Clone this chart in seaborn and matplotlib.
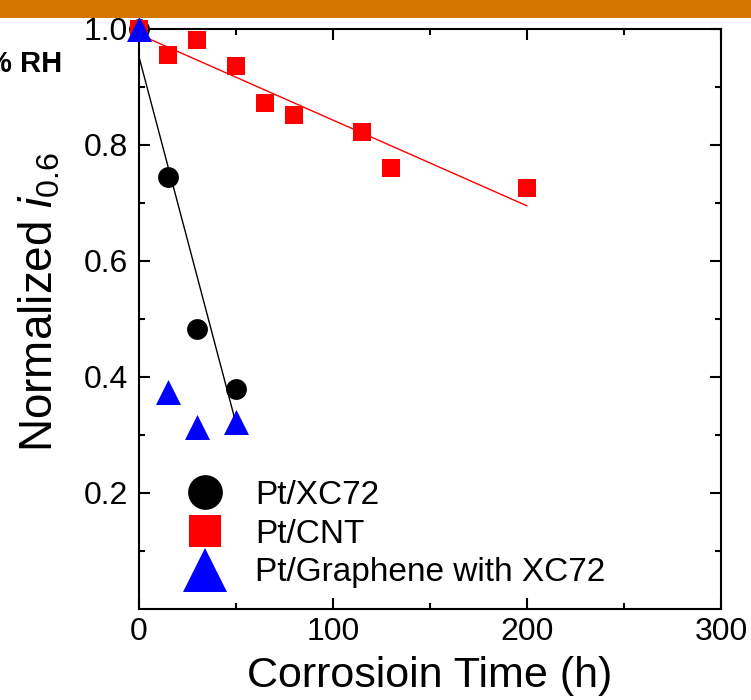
import numpy as np
import pandas as pd
import matplotlib
matplotlib.use("Agg")
import matplotlib.pyplot as plt
from matplotlib.lines import Line2D
from matplotlib.patches import Rectangle
import seaborn as sns

# ---- data ----
xc72_time = [0, 15, 30, 50]
xc72_val = [1.0, 0.745, 0.483, 0.379]

cnt_time = [0, 15, 30, 50, 65, 80, 115, 130, 200]
cnt_val = [1.0, 0.955, 0.981, 0.936, 0.872, 0.852, 0.822, 0.760, 0.726]

gr_time = [0, 15, 30, 50]
gr_val = [1.0, 0.374, 0.313, 0.322]

labels = ["Pt/XC72", "Pt/CNT", "Pt/Graphene with XC72"]
x_ticks = [0, 100, 200, 300]
y_ticks = [0.2, 0.4, 0.6, 0.8, 1.0]

sns.set_theme(style="ticks")
fam = "Liberation Sans"
plt.rcParams["font.family"] = [fam, "DejaVu Sans"]
plt.rcParams["text.color"] = "black"
plt.rcParams["axes.labelcolor"] = "black"
plt.rcParams["mathtext.fontset"] = "custom"
plt.rcParams["mathtext.rm"] = fam
plt.rcParams["mathtext.it"] = fam + ":italic"

fig = plt.figure(figsize=(7.51, 7.0), dpi=100)
ax = fig.add_axes([139 / 751, 1 - 609 / 700, (721 - 139) / 751, (609 - 29) / 700])

df_x = pd.DataFrame({"t": xc72_time, "v": xc72_val})
df_c = pd.DataFrame({"t": cnt_time, "v": cnt_val})
df_g = pd.DataFrame({"t": gr_time, "v": gr_val})

sns.regplot(data=df_x, x="t", y="v", scatter=False, ci=None, truncate=True,
            ax=ax, line_kws=dict(color="black", lw=1.0, zorder=2))
sns.regplot(data=df_c, x="t", y="v", scatter=False, ci=None, truncate=True,
            ax=ax, line_kws=dict(color="red", lw=1.0, zorder=2))

sns.scatterplot(data=df_x, x="t", y="v", ax=ax, marker="o", color="black",
                s=15**2, linewidth=0, zorder=3, clip_on=False, legend=False)
sns.scatterplot(data=df_c, x="t", y="v", ax=ax, marker="s", color="red",
                s=13**2, linewidth=0, zorder=4, clip_on=False, legend=False)
sns.scatterplot(data=df_g, x="t", y="v", ax=ax, marker="^", color="blue",
                s=18**2, linewidth=0, zorder=5, clip_on=False, legend=False)

ax.set_xlim(0, 300)
ax.set_ylim(0, 1.0)
ax.set_xticks(x_ticks)
ax.set_xticks([50, 150, 250], minor=True)
ax.set_yticks(y_ticks)
ax.set_yticks([0.1, 0.3, 0.5, 0.7, 0.9], minor=True)
ax.set_yticklabels([f"{v:.1f}" for v in y_ticks])

for sp in ax.spines.values():
    sp.set_visible(True)
    sp.set_linewidth(1.5)
    sp.set_color("black")
ax.tick_params(which="both", direction="in", top=True, right=True,
               width=1.5, color="black", labelsize=23, labelcolor="black")
ax.tick_params(which="major", length=8)
ax.tick_params(axis="y", which="major", pad=8)
ax.tick_params(axis="x", which="major", pad=6)
ax.tick_params(which="minor", length=4.5)

ax.set_xlabel("Corrosioin Time (h)", fontsize=31, labelpad=6, color="black")
ax.set_ylabel(r"Normalized $\mathit{i}_{\mathrm{0.6}}$", fontsize=33, labelpad=15, color="black")
ax.yaxis.label.set_y(0.529)

handles = [
    Line2D([], [], marker="o", ls="none", color="black", markersize=25, markeredgewidth=0),
    Line2D([], [], marker="s", ls="none", color="red", markersize=23, markeredgewidth=0),
    Line2D([], [], marker="^", ls="none", color="blue", markersize=31, markeredgewidth=0),
]
ax.legend(handles, labels, loc="upper left", bbox_to_anchor=(0.079, 0.2225),
          frameon=False, fontsize=24, handlelength=1.2, handletextpad=0.9,
          labelspacing=0.23, borderaxespad=0, borderpad=0, labelcolor="black")

fig.patches.append(Rectangle((0, 1 - 18 / 700), 1, 18 / 700, transform=fig.transFigure,
                             facecolor="#D47500", edgecolor="none", zorder=10))
fig.text(62 / 751, 1 - 64 / 700, "% RH", ha="right", va="center", fontsize=21,
         fontweight="bold", family=["Liberation Sans", "DejaVu Sans"], color="black")

fig.savefig("out.png", dpi=100)
